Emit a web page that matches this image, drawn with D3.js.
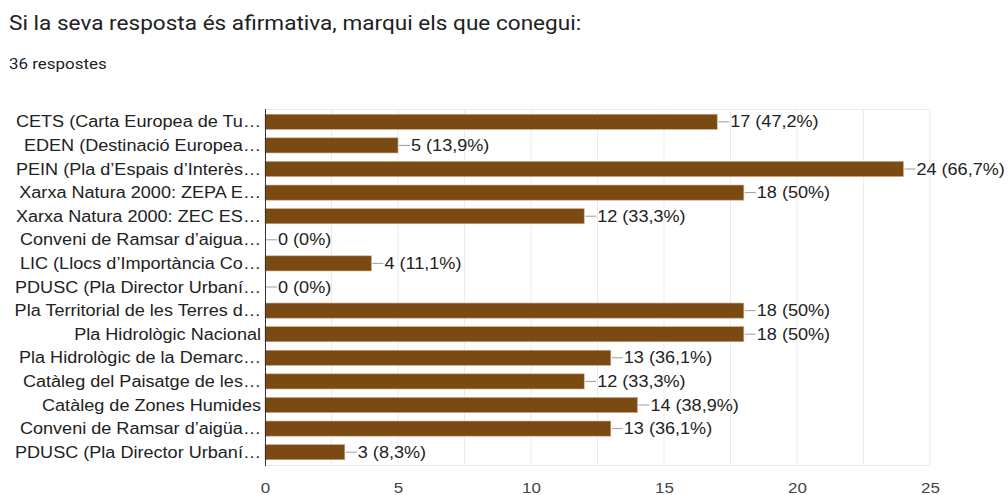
<!DOCTYPE html>
<html><head><meta charset="utf-8">
<script src="https://cdn.jsdelivr.net/npm/d3@7"></script>
<style>
body{margin:0;background:#fff;}
svg{display:block;}
</style></head>
<body>
<svg id="c" width="1008" height="495"></svg>
<script>
const title = "Si la seva resposta és afirmativa, marqui els que conegui:";
const subtitle = "36 respostes";
const categories = [
  "CETS (Carta Europea de Tu…",
  "EDEN (Destinació Europea…",
  "PEIN (Pla d’Espais d’Interès…",
  "Xarxa Natura 2000: ZEPA E…",
  "Xarxa Natura 2000: ZEC ES…",
  "Conveni de Ramsar d’aigua…",
  "LIC (Llocs d’Importància Co…",
  "PDUSC (Pla Director Urbaní…",
  "Pla Territorial de les Terres d…",
  "Pla Hidrològic Nacional",
  "Pla Hidrològic de la Demarc…",
  "Catàleg del Paisatge de les…",
  "Catàleg de Zones Humides",
  "Conveni de Ramsar d’aigüa…",
  "PDUSC (Pla Director Urbaní…"
];
const values = [17, 5, 24, 18, 12, 0, 4, 0, 18, 18, 13, 12, 14, 13, 3];
const percents = ["47,2%", "13,9%", "66,7%", "50%", "33,3%", "0%", "11,1%", "0%", "50%", "50%", "36,1%", "33,3%", "38,9%", "36,1%", "8,3%"];
const xTicks = [0, 5, 10, 15, 20, 25];
const gridTicks = [2.5, 5, 7.5, 10, 12.5, 15, 17.5, 20, 22.5, 25];

const SX = 1.13; // horizontal text stretch seen in the reference
const svg = d3.select("#c");
const font = "Arial, 'Liberation Sans', sans-serif";
const tr = (px, py) => `translate(${px},${py}) scale(${SX},1)`;

svg.append("text").attr("transform", tr(9, 30)).text(title)
  .attr("font-family", "Roboto, Arial, sans-serif").attr("font-size", 20).attr("fill", "#202124");
svg.append("text").attr("transform", tr(9, 69)).text(subtitle)
  .attr("font-family", "Roboto, Arial, sans-serif").attr("font-size", 15).attr("fill", "#202124");

const x = d3.scaleLinear().domain([0, 25]).range([265, 930]);
const y = d3.scaleBand().domain(d3.range(categories.length)).range([110, 464]).paddingInner(0.36).paddingOuter(0.18);
const cy = i => y(i) + y.bandwidth() / 2;

const g = svg.append("g");
g.selectAll("line.grid").data(gridTicks).join("line")
  .attr("x1", d => x(d)).attr("x2", d => x(d))
  .attr("y1", 109).attr("y2", 465)
  .attr("stroke", "#ebebeb").attr("stroke-width", 1);
g.append("line").attr("x1", x(0)).attr("x2", x(25)).attr("y1", 109.5).attr("y2", 109.5).attr("stroke", "#ebebeb");
g.append("line").attr("x1", x(0)).attr("x2", x(25)).attr("y1", 465.5).attr("y2", 465.5).attr("stroke", "#ebebeb");

g.selectAll("rect.bar").data(values).join("rect")
  .attr("x", x(0)).attr("y", (d, i) => y(i))
  .attr("width", d => x(d) - x(0)).attr("height", y.bandwidth())
  .attr("fill", "#7b4a12").attr("stroke", d => d > 0 ? "#c9a98a" : "none").attr("stroke-width", 0.6);

g.selectAll("line.lead").data(values).join("line")
  .attr("x1", d => x(d) + 1).attr("x2", d => x(d) + 12)
  .attr("y1", (d, i) => cy(i)).attr("y2", (d, i) => cy(i))
  .attr("stroke", "#9e9e9e").attr("stroke-width", 1);

g.selectAll("text.val").data(values).join("text")
  .attr("transform", (d, i) => tr(x(d) + 13, cy(i)))
  .attr("dy", "0.35em").text((d, i) => `${d} (${percents[i]})`)
  .attr("font-family", font).attr("font-size", 16).attr("fill", "#222");

g.selectAll("text.cat").data(categories).join("text")
  .attr("transform", (d, i) => tr(261, cy(i)))
  .attr("dy", "0.35em").attr("text-anchor", "end").text(d => d)
  .attr("font-family", font).attr("font-size", 16).attr("fill", "#222");

g.append("line").attr("x1", 265.5).attr("x2", 265.5).attr("y1", 109).attr("y2", 466)
  .attr("stroke", "#333").attr("stroke-width", 1);

const xa = d3.axisBottom(x).tickValues(xTicks).tickSize(0).tickPadding(0);
const ax = svg.append("g").attr("transform", "translate(0,482)").call(xa);
ax.select(".domain").remove();
ax.selectAll("text").attr("font-family", font).attr("font-size", 15).attr("fill", "#444")
  .attr("transform", `scale(${SX},1)`).attr("x", 0);
ax.selectAll(".tick").each(function() {
  // keep tick label centred under its tick despite the stretch
  d3.select(this).select("text").attr("transform", `scale(${SX},1)`);
});
</script>
</body></html>
